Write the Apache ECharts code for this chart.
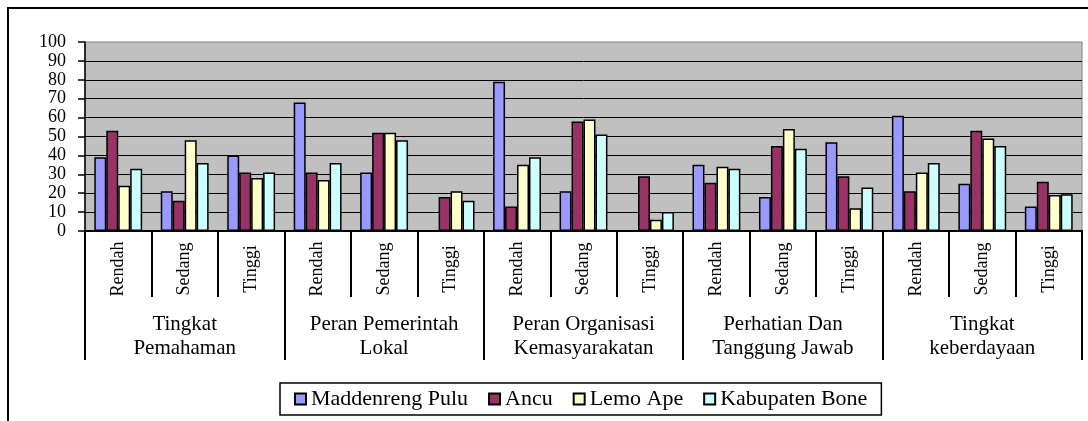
<!DOCTYPE html>
<html>
<head>
<meta charset="utf-8">
<script src="https://cdn.jsdelivr.net/npm/echarts@6/dist/echarts.min.js"></script>
<style>
  html, body { margin: 0; padding: 0; background: #fff; }
  #main { width: 1088px; height: 421px; }
</style>
</head>
<body>
<div id="main"></div>
<script>
  // kategori dan nilai
  var levels = ['Rendah', 'Sedang', 'Tinggi', 'Rendah', 'Sedang', 'Tinggi', 'Rendah', 'Sedang', 'Tinggi',
    'Rendah', 'Sedang', 'Tinggi', 'Rendah', 'Sedang', 'Tinggi']
  var groups = ['Tingkat\nPemahaman', 'Peran Pemerintah\nLokal', 'Peran Organisasi\nKemasyarakatan',
    'Perhatian Dan\nTanggung Jawab', 'Tingkat\nkeberdayaan']
  var yTicks = [0, 10, 20, 30, 40, 50, 60, 70, 80, 90, 100]

  var maddenrengPulu = [39, 21, 40, 68, 31, 0, 79, 21, 0, 35, 18, 47, 61, 25, 13]
  var ancu = [53, 16, 31, 31, 52, 18, 13, 58, 29, 25.5, 45, 29, 21, 53, 26]
  var lemoApe = [24, 48, 28, 27, 52, 21, 35, 59, 6, 34, 54, 12, 31, 49, 19]
  var kabupatenBone = [33, 36, 31, 36, 48, 16, 39, 51, 10, 33, 43.5, 23, 36, 45, 19.5]

  var serif = "'Liberation Serif', 'Times New Roman', serif"

  var myChart = echarts.init(document.getElementById('main'))

  function bar(name, data, color) {
    return {
      name: name,
      type: 'bar',
      data: data,
      barGap: '0%',
      barCategoryGap: '28%',
      itemStyle: { color: color, borderColor: '#000', borderWidth: 1.5 },
    }
  }

  var option = {
    animation: false,
    backgroundColor: '#fff',
    graphic: [
      {
        type: 'rect',
        silent: true,
        shape: { x: 8, y: 8, width: 1100, height: 440 },
        style: { fill: 'none', stroke: '#000', lineWidth: 2 },
      },
    ],
    grid: {
      left: 85,
      right: 6,
      top: 42,
      bottom: 190,
      show: true,
      backgroundColor: '#c0c0c0',
      borderColor: '#808080',
      borderWidth: 1,
    },
    legend: {
      left: 280,
      top: 383,
      icon: 'rect',
      itemWidth: 11,
      itemHeight: 11,
      itemGap: 20,
      padding: [5, 14],
      backgroundColor: '#fff',
      borderColor: '#000',
      borderWidth: 1.5,
      textStyle: { fontFamily: serif, fontSize: 22, color: '#000' },
    },
    xAxis: [
      {
        type: 'category',
        data: levels,
        boundaryGap: true,
        axisLine: { lineStyle: { color: '#000', width: 2 } },
        axisTick: { show: true, interval: 0, length: 66, lineStyle: { color: '#000', width: 2 } },
        axisLabel: {
          interval: 0,
          rotate: 90,
          align: 'center',
          verticalAlign: 'middle',
          margin: 38,
          fontFamily: serif,
          fontSize: 18,
          color: '#000',
        },
      },
      {
        type: 'category',
        data: groups,
        position: 'bottom',
        offset: 66,
        boundaryGap: true,
        axisLine: { show: false },
        axisTick: { show: true, interval: 0, length: 63, lineStyle: { color: '#000', width: 2 } },
        axisLabel: {
          interval: 0,
          margin: 15,
          fontFamily: serif,
          fontSize: 21,
          lineHeight: 24,
          color: '#000',
        },
      },
    ],
    yAxis: {
      type: 'value',
      min: yTicks[0],
      max: yTicks[yTicks.length - 1],
      interval: 10,
      axisLine: { show: true, lineStyle: { color: '#000', width: 1.5 } },
      axisTick: { show: true, length: 7, lineStyle: { color: '#000', width: 1.5 } },
      axisLabel: { fontFamily: serif, fontSize: 18, color: '#000', margin: 19 },
      splitLine: { show: true, showMaxLine: false, lineStyle: { color: '#000', width: 1 } },
    },
    series: [
      bar('Maddenreng Pulu', maddenrengPulu, '#9999ff'),
      bar('Ancu', ancu, '#993366'),
      bar('Lemo Ape', lemoApe, '#ffffcc'),
      bar('Kabupaten Bone', kabupatenBone, '#ccffff'),
    ],
  }

  myChart.setOption(option)
  window.addEventListener('resize', function () {
    myChart.resize()
  })
</script>
</body>
</html>
